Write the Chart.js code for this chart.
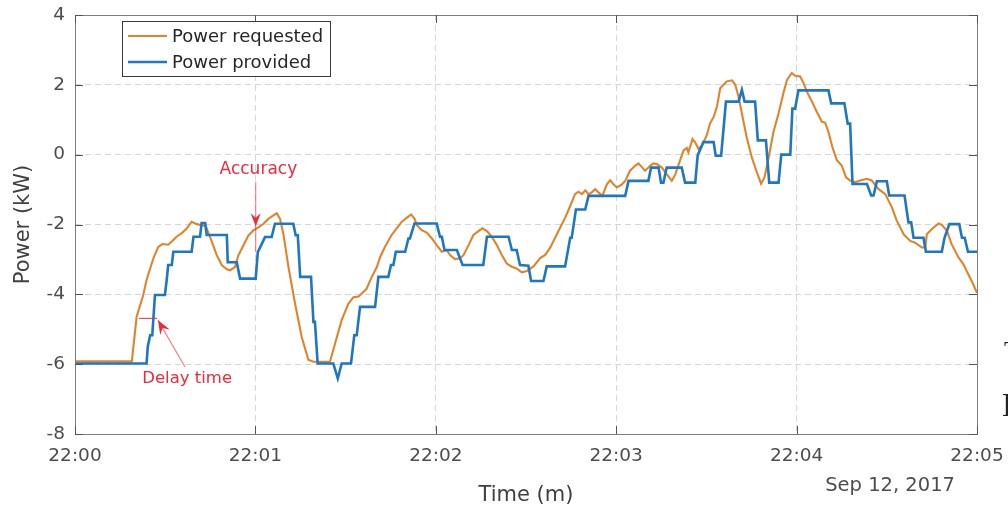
<!DOCTYPE html>
<html>
<head>
<meta charset="utf-8">
<script src="https://cdn.jsdelivr.net/npm/chart.js@4.4.0/dist/chart.umd.min.js"></script>
<style>
  html, body { margin: 0; padding: 0; background: #ffffff; }
  #wrap { width: 1008px; height: 509px; position: relative; }
</style>
</head>
<body>
<div id="wrap"><canvas id="c" width="1008" height="509"></canvas></div>
<script>
// Minute tick labels (x axis in seconds after 22:00)
const timeLabels = ['22:00', '22:01', '22:02', '22:03', '22:04', '22:05'];
const powerTicks = [-8, -6, -4, -2, 0, 2, 4];
const dateLabel = 'Sep 12, 2017';

// Power requested (kW) vs. seconds
const requestedSec = [0, 18.9, 20.5, 22.7, 23.8, 26.1, 27.7, 29.1, 31.0, 32.2, 33.8, 35.5, 37.2, 38.8, 40.5, 42.1, 43.5, 44.4, 45.5, 47.1, 48.8, 50.5, 51.6, 53.2, 54.3, 56.0, 57.7, 59.3, 61.0, 62.7, 64.3, 66.0, 67.1, 68.2, 69.3, 71.0, 73.2, 75.4, 77.6, 79.3, 84.8, 86.5, 88.7, 90.9, 92.6, 94.3, 95.9, 97.0, 98.7, 100.4, 101.5, 103.1, 105.3, 107.0, 108.7, 110.3, 111.8, 112.9, 113.7, 115.3, 117.0, 118.7, 120.3, 122.0, 123.6, 124.8, 126.4, 128.1, 129.2, 130.9, 132.5, 134.2, 135.5, 137.0, 138.6, 140.3, 142.0, 143.6, 145.3, 146.9, 148.6, 150.3, 152.5, 154.7, 156.4, 158.0, 159.7, 161.3, 163.0, 164.7, 166.3, 167.4, 168.6, 169.7, 170.8, 171.9, 173.0, 174.1, 175.4, 176.9, 178.0, 179.1, 180.2, 181.9, 183.0, 184.6, 186.3, 187.4, 188.5, 189.6, 191.3, 192.4, 193.5, 195.2, 196.8, 198.5, 199.6, 200.7, 202.4, 203.5, 204.0, 205.4, 206.3, 207.4, 208.5, 210.1, 211.2, 212.4, 213.5, 214.6, 215.7, 216.8, 218.5, 219.6, 220.7, 221.8, 223.4, 225.1, 226.8, 228.2, 229.3, 230.7, 232.3, 234.0, 235.6, 236.8, 238.4, 239.5, 241.2, 242.3, 243.4, 245.1, 246.7, 248.4, 249.5, 250.6, 251.9, 253.4, 255.0, 256.4, 257.8, 259.5, 261.1, 263.4, 265.0, 267.2, 269.5, 271.7, 273.3, 275.6, 277.8, 279.4, 281.7, 282.8, 283.3, 285.0, 287.2, 288.3, 290.0, 291.6, 293.9, 295.5, 296.6, 298.3, 300.0];
const requestedKW = [-5.92, -5.92, -4.64, -4.02, -3.59, -2.96, -2.64, -2.56, -2.58, -2.49, -2.35, -2.25, -2.11, -1.92, -1.99, -2.02, -2.05, -2.25, -2.49, -2.87, -3.16, -3.28, -3.31, -3.22, -2.89, -2.60, -2.31, -2.17, -2.08, -1.98, -1.84, -1.74, -1.68, -1.84, -2.27, -3.22, -4.27, -5.22, -5.87, -5.93, -5.93, -5.41, -4.74, -4.27, -4.08, -4.06, -3.93, -3.84, -3.50, -3.22, -2.93, -2.64, -2.30, -2.11, -1.92, -1.81, -1.71, -1.83, -2.02, -2.16, -2.23, -2.40, -2.59, -2.78, -2.73, -2.88, -2.99, -2.97, -2.88, -2.59, -2.30, -2.19, -2.11, -2.19, -2.35, -2.59, -2.88, -3.12, -3.21, -3.26, -3.37, -3.33, -3.20, -2.96, -2.87, -2.67, -2.38, -2.10, -1.81, -1.47, -1.13, -1.06, -1.13, -1.02, -1.13, -1.08, -0.99, -1.08, -1.18, -0.85, -0.73, -0.85, -0.94, -0.85, -0.75, -0.46, -0.32, -0.25, -0.35, -0.46, -0.32, -0.25, -0.27, -0.37, -0.56, -0.75, -0.58, -0.30, 0.12, 0.19, 0.07, 0.45, 0.35, 0.16, 0.26, 0.55, 0.89, 1.08, 1.37, 1.90, 2.00, 2.10, 2.13, 2.00, 1.66, 1.18, 0.50, -0.08, -0.51, -0.83, -0.66, -0.08, 0.65, 1.18, 1.76, 2.14, 2.34, 2.26, 2.24, 2.05, 1.81, 1.52, 1.23, 0.94, 0.92, 0.65, 0.22, -0.16, -0.31, -0.64, -0.74, -0.79, -0.74, -0.69, -0.74, -0.98, -1.13, -1.51, -1.89, -2.28, -2.47, -2.52, -2.66, -2.66, -2.28, -2.13, -1.97, -2.01, -2.18, -2.57, -2.95, -3.14, -3.34, -3.63, -3.96];

// Power provided (kW) vs. seconds, stepwise response
const providedSec = [0, 23.8, 24.2, 25.0, 25.7, 26.6, 29.9, 30.5, 31.0, 32.2, 32.7, 38.8, 39.4, 41.6, 42.1, 43.3, 43.8, 50.5, 50.8, 53.8, 54.9, 60.1, 60.8, 63.2, 65.4, 66.5, 72.6, 73.4, 74.1, 74.9, 78.5, 79.3, 79.8, 80.7, 85.9, 87.4, 88.7, 91.8, 92.9, 93.7, 94.8, 99.8, 100.9, 104.2, 105.1, 105.9, 106.7, 109.8, 110.9, 111.4, 112.9, 120.3, 121.4, 122.0, 122.9, 127.0, 128.9, 135.8, 137.0, 144.2, 145.3, 146.9, 148.0, 150.8, 151.7, 155.8, 156.9, 163.0, 164.7, 165.2, 166.6, 169.7, 170.8, 183.0, 184.1, 190.7, 191.6, 194.1, 194.9, 195.7, 196.8, 201.8, 202.9, 206.3, 207.1, 209.0, 212.4, 213.1, 214.9, 216.5, 220.7, 221.8, 222.7, 226.2, 227.1, 229.8, 230.9, 234.0, 234.9, 237.9, 238.6, 239.5, 240.6, 250.6, 251.5, 255.9, 257.0, 257.8, 258.6, 263.4, 264.8, 265.6, 266.7, 270.0, 270.8, 275.9, 277.2, 278.1, 278.9, 282.2, 283.0, 288.3, 289.2, 290.8, 294.1, 295.0, 295.9, 297.0, 300.0];
const providedKW = [-5.98, -5.98, -5.50, -5.17, -5.17, -4.02, -4.02, -3.59, -3.16, -3.16, -2.78, -2.78, -2.35, -2.35, -1.96, -1.96, -2.30, -2.30, -3.08, -3.08, -3.55, -3.55, -2.79, -2.36, -2.36, -1.98, -1.98, -2.31, -2.31, -3.50, -3.50, -4.79, -4.79, -5.98, -5.98, -6.41, -5.98, -5.98, -5.17, -5.17, -4.36, -4.36, -3.50, -3.50, -3.16, -3.16, -2.78, -2.78, -2.40, -2.40, -1.97, -1.97, -2.35, -2.35, -2.73, -2.73, -3.16, -3.16, -2.35, -2.35, -2.73, -2.73, -3.16, -3.18, -3.62, -3.62, -3.20, -3.20, -2.38, -2.38, -1.57, -1.57, -1.18, -1.18, -0.75, -0.75, -0.37, -0.37, -0.80, -0.80, -0.37, -0.37, -0.80, -0.80, -0.02, 0.36, 0.36, -0.03, -0.03, 1.52, 1.52, 1.86, 1.52, 1.52, 0.41, 0.41, -0.80, -0.80, 0.00, 0.00, 1.32, 1.32, 1.84, 1.84, 1.47, 1.47, 0.89, 0.89, -0.84, -0.84, -1.17, -1.17, -0.76, -0.76, -1.17, -1.17, -1.94, -1.94, -2.38, -2.38, -2.78, -2.78, -2.38, -1.99, -1.99, -2.38, -2.38, -2.78, -2.78];

const ORANGE = '#e0842c';
const BLUE = '#1f77c2';
const RED = '#f0283c';
const FONT = '"DejaVu Sans", "Liberation Sans", Arial, sans-serif';

// Callouts placed in data coordinates (seconds, kW)
const accuracyNote = { text: 'Accuracy', t: 61.0, kw: -0.44, lineFrom: -0.78, lineTo: -2.79, tip: -2.05, at: 60.1 };
const delayNote = { text: 'Delay time', t: 37.3, kw: -6.43, barFrom: 21.3, barTo: 27.3, barKW: -4.69, tailT: 36.6, tailKW: -6.08, tipT: 27.6, tipKW: -4.74 };

function toPoints(xs, ys) { return xs.map((x, i) => ({ x: x, y: ys[i] })); }

function arrowHead(ctx, x1, y1, x2, y2, len, half) {
  const a = Math.atan2(y2 - y1, x2 - x1);
  const c = Math.cos(a), s = Math.sin(a);
  ctx.beginPath();
  ctx.moveTo(x2, y2);
  ctx.lineTo(x2 - len * c + half * s, y2 - len * s - half * c);
  ctx.lineTo(x2 - 0.65 * len * c, y2 - 0.65 * len * s);
  ctx.lineTo(x2 - len * c - half * s, y2 - len * s + half * c);
  ctx.closePath();
  ctx.fill();
}

const decorations = {
  id: 'decorations',
  afterDraw(chart) {
    const { ctx, chartArea: a, scales: { x, y } } = chart;
    ctx.save();

    // axes box
    ctx.strokeStyle = '#7d7d7d';
    ctx.lineWidth = 1;
    ctx.strokeRect(Math.round(a.left) + 0.5, Math.round(a.top) + 0.5, Math.round(a.right - a.left), Math.round(a.bottom - a.top));

    // inward tick marks on all four sides
    ctx.strokeStyle = '#555555';
    ctx.beginPath();
    for (let i = 0; i < timeLabels.length; i++) {
      const px = Math.round(x.getPixelForValue(i * 60)) + 0.5;
      ctx.moveTo(px, a.bottom); ctx.lineTo(px, a.bottom - 8);
      ctx.moveTo(px, a.top); ctx.lineTo(px, a.top + 8);
    }
    for (const v of powerTicks) {
      const py = Math.round(y.getPixelForValue(v)) + 0.5;
      ctx.moveTo(a.left, py); ctx.lineTo(a.left + 8, py);
      ctx.moveTo(a.right, py); ctx.lineTo(a.right - 8, py);
    }
    ctx.stroke();

    // legend box
    const lx = 122, ly = 21, lw = 208, lh = 55;
    ctx.fillStyle = '#ffffff';
    ctx.fillRect(lx, ly, lw, lh);
    ctx.strokeStyle = '#3a3a3a';
    ctx.strokeRect(lx + 0.5, ly + 0.5, lw, lh);
    const ds = chart.data.datasets;
    ctx.font = '18px ' + FONT;
    ctx.textBaseline = 'middle';
    ctx.textAlign = 'left';
    [36, 62].forEach((ry, i) => {
      ctx.strokeStyle = ds[i].borderColor;
      ctx.lineWidth = ds[i].borderWidth;
      ctx.beginPath(); ctx.moveTo(128, ry); ctx.lineTo(167, ry); ctx.stroke();
      ctx.fillStyle = '#262626';
      ctx.fillText(ds[i].label, 172, ry + 1);
    });

    // accuracy callout
    const ax = x.getPixelForValue(accuracyNote.at);
    ctx.strokeStyle = 'rgba(240,40,60,0.55)';
    ctx.lineWidth = 1.2;
    ctx.beginPath();
    ctx.moveTo(ax, y.getPixelForValue(accuracyNote.lineFrom));
    ctx.lineTo(ax, y.getPixelForValue(accuracyNote.lineTo));
    ctx.stroke();
    ctx.fillStyle = RED;
    arrowHead(ctx, ax, y.getPixelForValue(accuracyNote.lineFrom), ax, y.getPixelForValue(accuracyNote.tip), 13, 5);
    ctx.font = '17px ' + FONT;
    ctx.textAlign = 'center';
    ctx.fillStyle = RED;
    ctx.fillText(accuracyNote.text, x.getPixelForValue(accuracyNote.t), y.getPixelForValue(accuracyNote.kw));

    // delay callout
    const by = y.getPixelForValue(delayNote.barKW);
    ctx.strokeStyle = 'rgba(240,40,60,0.85)';
    ctx.lineWidth = 1.2;
    ctx.beginPath();
    ctx.moveTo(x.getPixelForValue(delayNote.barFrom), by);
    ctx.lineTo(x.getPixelForValue(delayNote.barTo), by);
    ctx.stroke();
    const tx = x.getPixelForValue(delayNote.tailT), ty = y.getPixelForValue(delayNote.tailKW);
    const hx = x.getPixelForValue(delayNote.tipT), hy = y.getPixelForValue(delayNote.tipKW);
    ctx.strokeStyle = 'rgba(240,40,60,0.6)';
    ctx.beginPath(); ctx.moveTo(tx, ty); ctx.lineTo(hx, hy); ctx.stroke();
    ctx.fillStyle = RED;
    arrowHead(ctx, tx, ty, hx, hy, 14, 5.5);
    ctx.font = '16.5px ' + FONT;
    ctx.fillText(delayNote.text, x.getPixelForValue(delayNote.t), y.getPixelForValue(delayNote.kw));

    // date stamp under the last time tick
    ctx.font = '19.5px ' + FONT;
    ctx.textAlign = 'right';
    ctx.fillStyle = '#4d4d4d';
    ctx.fillText(dateLabel, 955, 486);

    // text running past the right edge of the page
    ctx.textAlign = 'left';
    ctx.fillStyle = '#222222';
    ctx.font = '26px "Liberation Serif", serif';
    ctx.fillText('T', 1004, 352);
    ctx.font = '34px "Liberation Serif", serif';
    ctx.fillText('E', 1002, 407);

    ctx.restore();
  }
};

const tickFont = { family: FONT, size: 18.5 };
const titleFont = { family: FONT, size: 21 };

new Chart(document.getElementById('c'), {
  type: 'line',
  data: {
    datasets: [
      { label: 'Power requested', data: toPoints(requestedSec, requestedKW), borderColor: ORANGE, borderWidth: 2.1, pointRadius: 0, tension: 0, order: 1 },
      { label: 'Power provided', data: toPoints(providedSec, providedKW), borderColor: BLUE, borderWidth: 2.6, pointRadius: 0, tension: 0, order: 0 }
    ]
  },
  options: {
    responsive: false,
    animation: false,
    devicePixelRatio: 1,
    layout: { padding: { top: 15, right: 31, bottom: 0, left: 0 } },
    plugins: { legend: { display: false }, tooltip: { enabled: false } },
    scales: {
      x: {
        type: 'linear', min: 0, max: 300,
        afterBuildTicks(scale) { scale.ticks = timeLabels.map((_, i) => ({ value: i * 60 })); },
        afterFit(scale) { scale.height = 75; scale.paddingLeft = 0; scale.paddingRight = 0; },
        ticks: { autoSkip: false, maxRotation: 0, padding: 11, color: '#4d4d4d', font: tickFont,
                 callback: (v) => timeLabels[Math.round(v / 60)] },
        grid: { color: 'rgba(0,0,0,0.16)', lineWidth: 1, drawTicks: false },
        border: { display: false, dash: [6, 4] },
        title: { display: true, text: 'Time (m)', color: '#404040', font: titleFont, padding: { top: 0, bottom: 1 } }
      },
      y: {
        type: 'linear', min: -8, max: 4,
        afterBuildTicks(scale) { scale.ticks = powerTicks.map(v => ({ value: v })); },
        afterFit(scale) { scale.width = 75; scale.paddingTop = 0; scale.paddingBottom = 0; },
        ticks: { padding: 10, color: '#4d4d4d', font: tickFont },
        grid: { color: 'rgba(0,0,0,0.16)', lineWidth: 1, drawTicks: false },
        border: { display: false, dash: [6, 4] },
        title: { display: true, text: 'Power (kW)', color: '#404040', font: titleFont, padding: { top: 11, bottom: 0 } }
      }
    }
  },
  plugins: [decorations]
});
</script>
</body>
</html>
